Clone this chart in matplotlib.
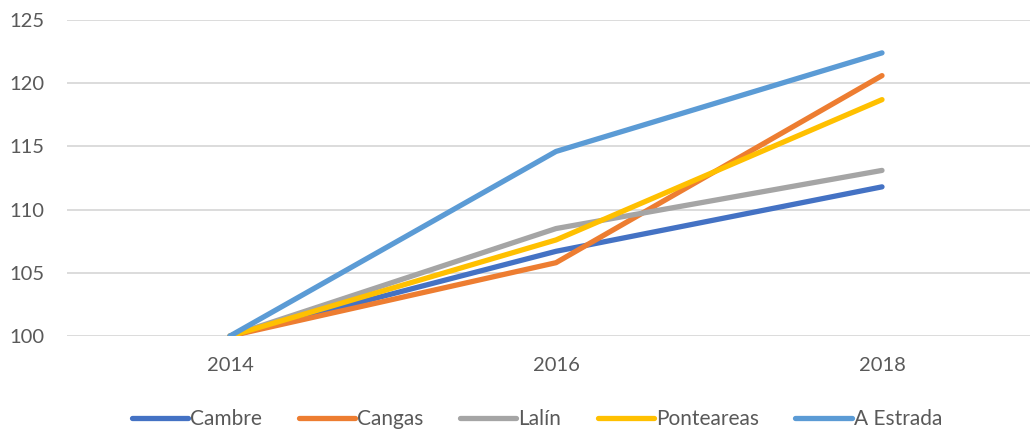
import matplotlib.pyplot as plt

years = ["2014", "2016", "2018"]
cambre = [100, 106.7, 111.8]
cangas = [100, 105.8, 120.6]
lalin = [100, 108.5, 113.1]
ponteareas = [100, 107.6, 118.7]
a_estrada = [100, 114.6, 122.4]

series = [
    ("Cambre", cambre, "#4472C4"),
    ("Cangas", cangas, "#ED7D31"),
    ("Lalín", lalin, "#A5A5A5"),
    ("Ponteareas", ponteareas, "#FFC000"),
    ("A Estrada", a_estrada, "#5B9BD5"),
]

plt.rcParams["font.family"] = ["Lato", "DejaVu Sans"]
text_color = "#595959"
fsize = 14.5

fig = plt.figure(figsize=(10.3, 4.33), dpi=100)
ax = fig.add_axes([67 / 1030, 97 / 433, 978 / 1030, 316 / 433])

x = range(len(years))
for name, vals, color in series:
    ax.plot(x, vals, color=color, lw=3.8, solid_capstyle="round",
            solid_joinstyle="round", label=name)

ax.set_xlim(-0.5, 2.5)
ax.set_ylim(100, 125)
ax.set_yticks(range(100, 126, 5))
ax.set_xticks(list(x))
ax.set_xticklabels(years)
ax.yaxis.grid(True, color="#D9D9D9", lw=1.3)
ax.set_axisbelow(True)
for s in ax.spines.values():
    s.set_visible(False)
ax.tick_params(length=0, labelsize=fsize, colors=text_color)
ax.tick_params(axis="y", pad=16)
ax.tick_params(axis="x", pad=15)

fig.legend(loc="center", bbox_to_anchor=(537 / 1030, 14 / 433), ncol=5,
           frameon=False, fontsize=15, labelcolor=text_color,
           handlelength=2.7, handletextpad=0.1, columnspacing=1.75)

fig.savefig("out.png", dpi=100)
